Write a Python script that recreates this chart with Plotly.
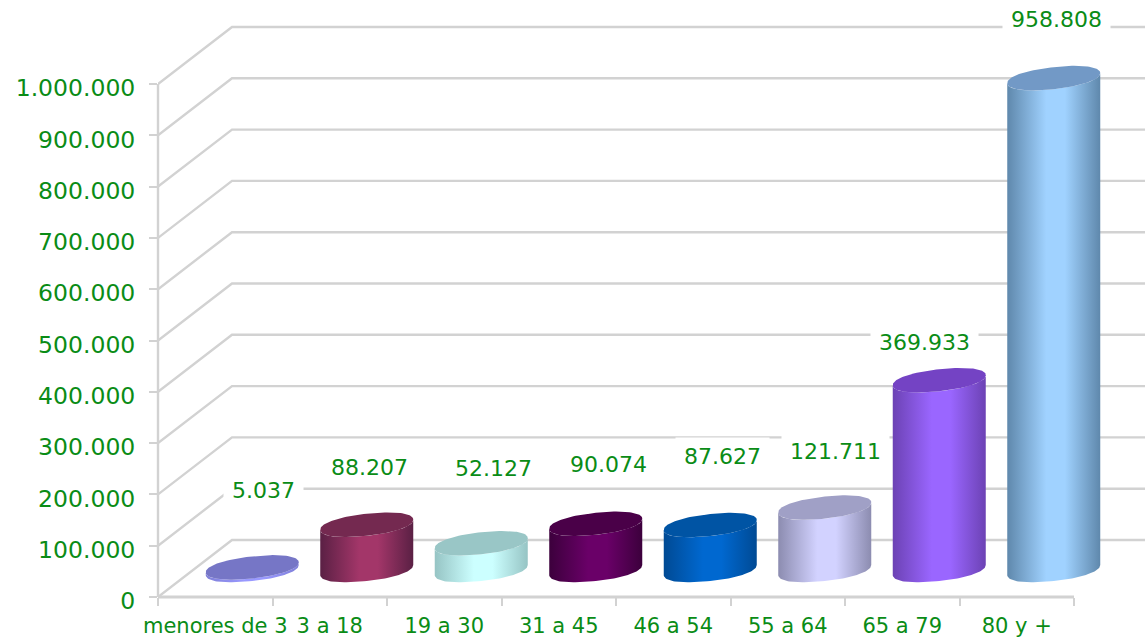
import numpy as np
import plotly.graph_objects as go

categories = ["menores de 3", "3 a 18", "19 a 30", "31 a 45", "46 a 54", "55 a 64", "65 a 79", "80 y +"]
values = [5037, 88207, 52127, 90074, 87627, 121711, 369933, 958808]
value_labels = ["5.037", "88.207", "52.127", "90.074", "87.627", "121.711", "369.933", "958.808"]
y_ticks = [0, 100000, 200000, 300000, 400000, 500000, 600000, 700000, 800000, 900000, 1000000]
y_tick_labels = ["0", "100.000", "200.000", "300.000", "400.000", "500.000", "600.000", "700.000", "800.000", "900.000", "1.000.000"]

# (dark edge, bright centre, top face)
cyl_colors = [
    ("#8080d8", "#9999ff", "#7676c6"),
    ("#5a2044", "#a33669", "#742950"),
    ("#96c4c4", "#ccffff", "#99c6c6"),
    ("#3c003c", "#6a0068", "#4a0048"),
    ("#004a94", "#0068d0", "#0054a4"),
    ("#8c8cb0", "#d2d2ff", "#a0a0c6"),
    ("#6c42b4", "#9a66ff", "#7443c4"),
    ("#5f88ac", "#a0d2ff", "#7299c6"),
]
label_shift = [(48, 104), (40, 85), (49, 102), (50, 87), (49, 96), (48, 84), (22, 65), (40, 86)]

TEXT = "#0a8c16"
GRID = "#d2d2d2"
W, H = 1145, 638
ML, MB = 158, 41
PX_X = 114.5          # pixels per category
PX_V = 513 / 1000000.0    # pixels per unit of value


def dx(p):
    return p / PX_X


def dv(p):
    return p / PX_V


DEPTH_X, DEPTH_Y = dx(74), dv(57)
CX, BASE = dx(37), dv(27)
RX, RY, TILT = dx(46.5), dv(11), dv(5)

fig = go.Figure()

wx, wy = [], []
for v in y_ticks:
    wx += [-0.5, -0.5 + DEPTH_X, 8.3, None]
    wy += [v, v + DEPTH_Y, v + DEPTH_Y, None]
fig.add_trace(go.Scatter(x=wx, y=wy, mode="lines", line=dict(color=GRID, width=2.4),
                         hoverinfo="skip", showlegend=False))

t_all = np.linspace(0, 2 * np.pi, 121)
t_front = np.linspace(0, np.pi, 61)


def round_cos(t):
    return np.sign(np.cos(t)) * np.abs(np.cos(t)) ** 0.92


def round_sin(t):
    return np.sign(np.sin(t)) * np.abs(np.sin(t)) ** 0.92


for i, (val, (edge, bright, top)) in enumerate(zip(values, cyl_colors)):
    cx = i + CX
    ytop = val + BASE
    fx = cx + RX * round_cos(t_front)
    ftop = ytop + TILT * round_cos(t_front) - RY * round_sin(t_front)
    fbot = BASE + TILT * round_cos(t_front) - RY * round_sin(t_front)
    bx = np.concatenate([fx, fx[::-1], fx[:1]])
    by = np.concatenate([fbot, ftop[::-1], fbot[:1]])
    fig.add_trace(go.Scatter(
        x=bx, y=by, mode="lines", line=dict(width=0), fill="toself",
        fillgradient=dict(type="horizontal", colorscale=[
            [0, edge], [0.42, bright], [0.62, bright], [1, edge]]),
        hoverinfo="skip", showlegend=False))
    fig.add_trace(go.Scatter(
        x=cx + RX * round_cos(t_all),
        y=ytop + TILT * round_cos(t_all) - RY * round_sin(t_all),
        mode="lines", line=dict(width=0), fill="toself", fillcolor=top,
        hoverinfo="skip", showlegend=False))

for i, (val, lab, (sx, sy)) in enumerate(zip(values, value_labels, label_shift)):
    fig.add_annotation(x=i, y=val, xref="x", yref="y", text=lab, showarrow=False,
                       xshift=sx, yshift=sy, xanchor="center", yanchor="middle",
                       font=dict(family="DejaVu Sans", size=22, color=TEXT),
                       bgcolor="white", borderpad=8, height=20)

fig.add_shape(type="line", xref="x", yref="paper", x0=-0.5, x1=7.5, y0=0, y1=0,
              line=dict(color=GRID, width=3), layer="above")
fig.add_shape(type="line", xref="paper", yref="y", x0=0, x1=0, y0=0, y1=1000000,
              line=dict(color=GRID, width=2.4), layer="above")

fig.update_xaxes(range=[-0.5, -0.5 + (W - ML) / PX_X], tickmode="array", tickvals=list(range(8)),
                 ticktext=categories, ticks="", showgrid=False, zeroline=False, showline=False,
                 automargin=False,
                 tickfont=dict(family="DejaVu Sans", size=21, color=TEXT), ticklabelstandoff=14,
                 minor=dict(tickmode="array", tickvals=[k - 0.5 for k in range(9)], ticks="outside",
                            ticklen=8, tickwidth=1.5, tickcolor=GRID, showgrid=False))
fig.update_yaxes(range=[0, (H - MB) / PX_V], tickmode="array", tickvals=y_ticks, ticktext=y_tick_labels,
                 ticks="outside", ticklen=8, tickwidth=1.5, tickcolor=GRID, showgrid=False, zeroline=False,
                 showline=False, automargin=False,
                 tickfont=dict(family="DejaVu Sans", size=23.5, color=TEXT), ticklabelstandoff=9,
                 ticklabelshift=4)
fig.update_layout(width=W, height=H, margin=dict(l=ML, r=0, t=0, b=MB, pad=0),
                  paper_bgcolor="white", plot_bgcolor="white", showlegend=False)
fig.write_html("out.html", post_script="document.body.style.margin='0';", config={"displayModeBar": False})
